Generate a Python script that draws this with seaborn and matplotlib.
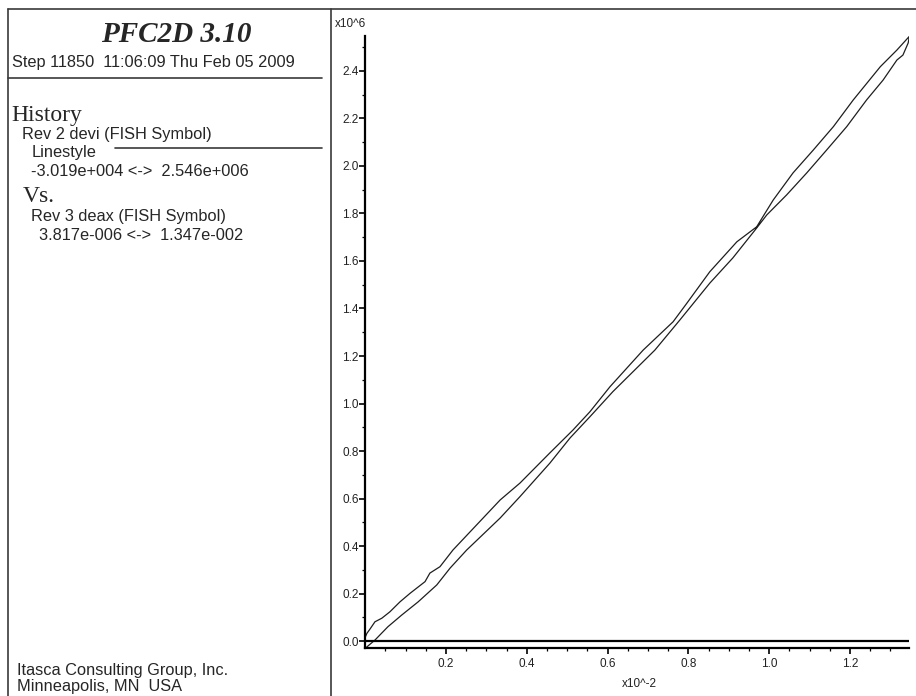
import pandas as pd
import matplotlib
matplotlib.use("Agg")
import matplotlib.pyplot as plt
from matplotlib.lines import Line2D
from matplotlib.ticker import FixedLocator, MultipleLocator, FormatStrFormatter
import seaborn as sns

# === data (axial strain in x10^-2, deviator stress in x10^6) ===
load_x = [0.0004, 0.024, 0.056, 0.090, 0.131, 0.177, 0.210, 0.251, 0.334, 0.383,
          0.457, 0.507, 0.556, 0.613, 0.717, 0.779, 0.853, 0.910, 0.969, 0.994,
          1.043, 1.093, 1.142, 1.192, 1.241, 1.282, 1.316, 1.331, 1.344, 1.347]
load_y = [-0.030, 0.004, 0.060, 0.109, 0.165, 0.236, 0.307, 0.383, 0.518, 0.608,
          0.749, 0.855, 0.944, 1.050, 1.225, 1.352, 1.507, 1.613, 1.739, 1.794,
          1.878, 1.971, 2.067, 2.166, 2.278, 2.362, 2.446, 2.467, 2.518, 2.546]

unload_x = [1.347, 1.316, 1.275, 1.208, 1.159, 1.109, 1.059, 1.010, 0.990, 0.969,
            0.920, 0.853, 0.796, 0.762, 0.688, 0.606, 0.556, 0.514, 0.457, 0.383,
            0.334, 0.217, 0.185, 0.160, 0.148, 0.111, 0.086, 0.061, 0.041, 0.024,
            0.012, 0.004, 0.001]
unload_y = [2.546, 2.488, 2.418, 2.278, 2.166, 2.067, 1.971, 1.857, 1.802, 1.744,
            1.681, 1.555, 1.422, 1.344, 1.225, 1.071, 0.965, 0.888, 0.792, 0.665,
            0.594, 0.383, 0.313, 0.286, 0.250, 0.201, 0.165, 0.123, 0.096, 0.081,
            0.051, 0.032, 0.020]

x_ticks = [0.2, 0.4, 0.6, 0.8, 1.0, 1.2]
y_ticks = [0.0, 0.2, 0.4, 0.6, 0.8, 1.0, 1.2, 1.4, 1.6, 1.8, 2.0, 2.2, 2.4]
x_range = (3.817e-006 / 1e-2, 1.347e-002 / 1e-2)
y_range = (-3.019e+004 / 1e6, 2.546e+006 / 1e6)

W, H = 916, 696
SANS = ['Liberation Sans', 'DejaVu Sans']
SERIF = ['Liberation Serif', 'DejaVu Serif']
FRAME = '#3a3a3a'
TXT = 11.8   # panel text size
TICK = 8.5   # tick label size

sns.set_theme(style="ticks")
plt.rcParams['font.family'] = SANS


def fx(px):
    return px / W


def fy(py):
    return 1 - py / H


fig = plt.figure(figsize=(W / 100, H / 100), dpi=100)
fig.patch.set_facecolor('white')

left, right = 365.4, 909.4
top, bottom = 36.3, 648.2
ax = fig.add_axes([fx(left), fy(bottom), fx(right - left), (bottom - top) / H])

df = pd.DataFrame({'x': load_x + unload_x, 'y': load_y + unload_y})
sns.lineplot(data=df, x='x', y='y', sort=False, estimator=None,
             color='#1e1e1e', linewidth=0.9, ax=ax)
ax.axhline(0, color='black', linewidth=1.6)

ax.set_xlim(*x_range)
ax.set_ylim(*y_range)
ax.xaxis.set_major_locator(FixedLocator(x_ticks))
ax.yaxis.set_major_locator(FixedLocator(y_ticks))
ax.xaxis.set_minor_locator(MultipleLocator(0.05))
ax.yaxis.set_minor_locator(MultipleLocator(0.1))
ax.xaxis.set_major_formatter(FormatStrFormatter('%.1f'))
ax.yaxis.set_major_formatter(FormatStrFormatter('%.1f'))
ax.set_xlabel('')
ax.set_ylabel('')
ax.set_facecolor('white')

for side in ('top', 'right'):
    ax.spines[side].set_visible(False)
for side in ('left', 'bottom'):
    ax.spines[side].set_linewidth(1.6)
    ax.spines[side].set_color('black')

ax.tick_params(which='major', direction='out', length=4.3, width=1.2,
               labelsize=TICK, colors='black', labelcolor='#222222')
ax.tick_params(axis='y', which='major', pad=0.6)
ax.tick_params(axis='x', which='major', pad=2.5)
ax.tick_params(which='minor', direction='out', length=2.2, width=0.9, colors='black')

fig.text(fx(335), fy(24), 'x10^6', fontsize=TICK, va='center', ha='left', color='#222222')
fig.text(fx(622), fy(684), 'x10^-2', fontsize=TICK, va='center', ha='left', color='#222222')

# === frame lines ===
frame_lines = [
    ((8, W), (9, 9)),
    ((8, 8), (9, H)),
    ((330.5, 330.5), (9, H)),
    ((8, 322), (77.5, 77.5)),
    ((115, 322), (147.5, 147.5)),
]
for xs, ys in frame_lines:
    fig.add_artist(Line2D([fx(v) for v in xs], [fy(v) for v in ys],
                          color=FRAME, linewidth=1.2))

# === info panel text ===
fig.text(fx(176), fy(35), 'PFC2D 3.10', family=SERIF, fontsize=21,
         fontweight='bold', fontstyle='italic', ha='center', va='center')
fig.text(fx(11.5), fy(62), 'Step 11850  11:06:09 Thu Feb 05 2009',
         fontsize=TXT, ha='left', va='center')
fig.text(fx(11.5), fy(115), 'History', family=SERIF, fontsize=17,
         ha='left', va='center')
fig.text(fx(22), fy(135), 'Rev 2 devi (FISH Symbol)', fontsize=TXT, ha='left', va='center')
fig.text(fx(31.5), fy(153), 'Linestyle', fontsize=TXT, ha='left', va='center')
fig.text(fx(31.5), fy(172), '-3.019e+004 <->  2.546e+006', fontsize=TXT,
         ha='left', va='center')
fig.text(fx(23), fy(197), 'Vs.', family=SERIF, fontsize=17, ha='left', va='center')
fig.text(fx(31.5), fy(217), 'Rev 3 deax (FISH Symbol)', fontsize=TXT, ha='left', va='center')
fig.text(fx(39), fy(235), '3.817e-006 <->  1.347e-002', fontsize=TXT,
         ha='left', va='center')
fig.text(fx(17), fy(670), 'Itasca Consulting Group, Inc.', fontsize=TXT,
         ha='left', va='center')
fig.text(fx(17), fy(687), 'Minneapolis, MN  USA', fontsize=TXT, ha='left', va='center')

fig.savefig('out.png', dpi=100, facecolor='white')
